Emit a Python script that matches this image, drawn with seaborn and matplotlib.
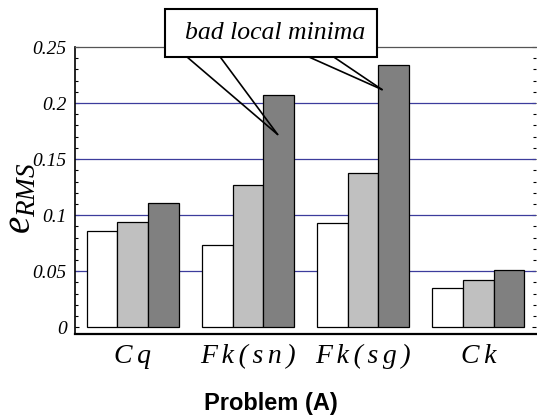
import matplotlib
matplotlib.use("Agg")
import matplotlib.pyplot as plt
import seaborn as sns
import pandas as pd
from matplotlib.patches import Rectangle
from matplotlib.ticker import FixedLocator, FixedFormatter, MultipleLocator

# ---- data ----
S = "\u2006"
categories = [S.join("Cq"), S.join("Fk(sn)"), S.join("Fk(sg)"), S.join("Ck")]
series_names = ["s1", "s2", "s3"]
series1 = [0.0857, 0.0735, 0.0929, 0.0348]
series2 = [0.0943, 0.1268, 0.1375, 0.0422]
series3 = [0.1107, 0.2068, 0.2340, 0.0514]
ytick_values = [0, 0.05, 0.1, 0.15, 0.2, 0.25]
ytick_labels = ["0", "0.05", "0.1", "0.15", "0.2", "0.25"]
colors = ["#ffffff", "#c0c0c0", "#808080"]
callout_text = "bad local minima"

rows = []
for name, vals in zip(series_names, [series1, series2, series3]):
    for c, v in zip(categories, vals):
        rows.append({"cat": c, "series": name, "val": v})
df = pd.DataFrame(rows)

sns.set_style("white")
serif = ["Liberation Serif", "DejaVu Serif"]
plt.rcParams["mathtext.fontset"] = "custom"
plt.rcParams["mathtext.it"] = "Liberation Serif:italic"
plt.rcParams["mathtext.rm"] = "Liberation Serif"
for k in ["text.color", "axes.labelcolor", "xtick.color", "ytick.color"]:
    plt.rcParams[k] = "black"

fig = plt.figure(figsize=(5.37, 4.15), dpi=100)
ax = fig.add_axes([75/537, 1-334/415, 461/537, (334-47)/415])

sns.barplot(data=df, x="cat", y="val", hue="series", order=categories,
            hue_order=series_names, palette=colors, edgecolor="black",
            linewidth=0.9, saturation=1, width=0.8, ax=ax, legend=False, zorder=3)

ax.set_xlim(-0.5, 3.5)
ax.set_ylim(-0.006, 0.25)

for y in ytick_values[1:-1]:
    ax.axhline(y, color="#3c3c9c", lw=0.9, zorder=1)

ax.yaxis.set_major_locator(FixedLocator(ytick_values))
ax.yaxis.set_major_formatter(FixedFormatter(ytick_labels))
ax.yaxis.set_minor_locator(MultipleLocator(0.01))
ax.tick_params(axis="y", which="major", direction="in", length=3, width=0.8,
               pad=6, left=True, right=True, color="black")
ax.tick_params(axis="y", which="minor", direction="in", length=2, width=0.8,
               left=True, right=True, color="black")
for t in ax.yaxis.get_major_ticks() + ax.yaxis.get_minor_ticks():
    t.tick2line.set_color("#bbbbbb")
for lab in ax.get_yticklabels():
    lab.set_fontfamily(serif)
    lab.set_fontstyle("italic")
    lab.set_fontsize(14)
    lab.set_color("black")

ax.tick_params(axis="x", length=0, pad=7)
for lab in ax.get_xticklabels():
    lab.set_fontfamily(serif)
    lab.set_fontstyle("italic")
    lab.set_fontsize(20)
    lab.set_color("black")

ax.spines["left"].set_linewidth(1.2)
ax.spines["left"].set_color("black")
ax.spines["bottom"].set_linewidth(1.6)
ax.spines["bottom"].set_color("black")
ax.spines["top"].set_linewidth(0.9)
ax.spines["top"].set_color("#555555")
ax.spines["right"].set_visible(False)

ax.set_xlabel("Problem (A)", fontsize=17, fontweight="bold", color="black",
              fontfamily=["Liberation Sans", "DejaVu Sans"])
ax.xaxis.set_label_coords((271-75)/461, -0.203)
ax.set_ylabel("$e_{RMS}$", fontsize=28, color="black")
ax.yaxis.set_label_coords(-0.08, 0.474)

# ---- callout ----
W, H = 537, 415
def ff(px, py):
    return (px / W, 1 - py / H)

tip1 = (1.258, 0.172)
tip2 = (2.164, 0.212)
for base, tip in [((186.7, 56.7), tip1), ((220, 56.7), tip1),
                  ((308.3, 56.7), tip2), ((333.3, 56.7), tip2)]:
    ax.annotate("", xy=tip, xycoords="data", xytext=ff(*base),
                textcoords="figure fraction",
                arrowprops=dict(arrowstyle="-", lw=1.2, color="black",
                                shrinkA=0, shrinkB=0),
                annotation_clip=False, zorder=6)

x0, y0 = ff(165, 57)
rect = Rectangle((x0, y0), (377-165)/W, (57-9)/H, transform=fig.transFigure,
                 facecolor="white", edgecolor="black", lw=1.5, zorder=7)
fig.patches.append(rect)
fig.text(*ff(275, 33), callout_text, fontsize=18.5, fontstyle="italic",
         fontfamily=serif, ha="center", va="center", zorder=8, color="black")

fig.savefig("out.png", dpi=100)
